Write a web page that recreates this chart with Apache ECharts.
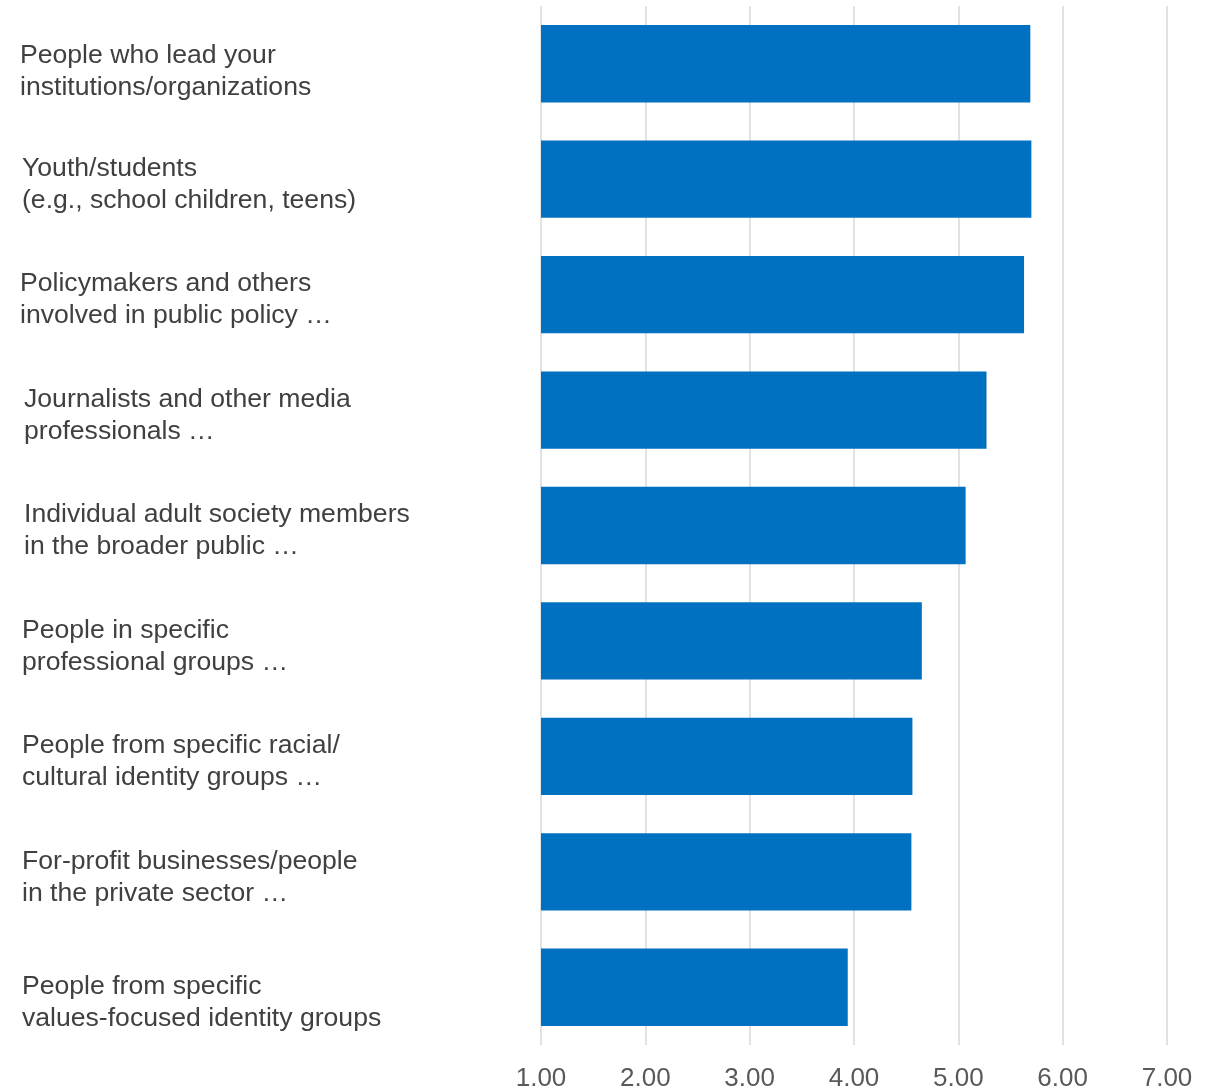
<!DOCTYPE html>
<html><head><meta charset="utf-8">
<script src="https://cdn.jsdelivr.net/npm/echarts@6/dist/echarts.min.js"></script>
<style>html,body{margin:0;padding:0;background:#fff}#c{width:1211px;height:1090px}</style>
</head><body><div id="c"></div>
<script>
const categories = [
  "People who lead your\ninstitutions/organizations",
  "Youth/students\n(e.g., school children, teens)",
  "Policymakers and others\ninvolved in public policy \u2026",
  "Journalists and other media\nprofessionals \u2026",
  "Individual adult society members\nin the broader public \u2026",
  "People in specific\nprofessional groups \u2026",
  "People from specific racial/\ncultural identity groups \u2026",
  "For-profit businesses/people\nin the private sector \u2026",
  "People from specific\nvalues-focused identity groups"
];
const values = [5.69, 5.70, 5.63, 5.27, 5.07, 4.65, 4.56, 4.55, 3.94];
const xMin = 1, xMax = 7, xStep = 1;

const FONT = '"Liberation Sans", Arial, sans-serif';
// label box styles per row (spacer above text, indent)
const spacerStyle = ['s2', 's1', 's1', 's1', 's1', 's1', 's1', 's1', 's3'];
const textStyle = ['a0', 'a2', 'a0', 'a4', 'a4', 'a2', 'a2', 'a2', 'a2'];
const base = {fontFamily: FONT, fontSize: 26.6, lineHeight: 32, color: '#404040'};
const chart = echarts.init(document.getElementById('c'), null, {renderer: 'canvas'});
chart.setOption({
  animation: false,
  grid: {left: 541, right: 44, top: 6, bottom: 45, containLabel: false, outerBoundsMode: 'none'},
  xAxis: {
    type: 'value', min: xMin, max: xMax, interval: xStep,
    axisLine: {show: false}, axisTick: {show: false},
    splitLine: {show: true, lineStyle: {color: '#d9d9d9', width: 1.5}},
    axisLabel: {
      formatter: v => v.toFixed(2), color: '#595959',
      fontFamily: FONT, fontSize: 26, margin: 21
    }
  },
  yAxis: {
    type: 'category', data: categories, inverse: true,
    axisLine: {show: false}, axisTick: {show: false},
    axisLabel: {
      align: 'left', margin: 521, color: '#404040',
      fontFamily: FONT, fontSize: 26.6, lineHeight: 32,
      formatter: (v, i) => '{' + spacerStyle[i] + '| }\n' +
        v.split('\n').map(l => '{' + textStyle[i] + '|' + l + '}').join('\n'),
      rich: {
        s1: {fontSize: 1, lineHeight: 11},
        s2: {fontSize: 1, lineHeight: 15},
        s3: {fontSize: 1, lineHeight: 31},
        a0: Object.assign({}, base),
        a2: Object.assign({padding: [0, 0, 0, 2]}, base),
        a4: Object.assign({padding: [0, 0, 0, 4]}, base)
      }
    }
  },
  series: [{
    type: 'bar', data: values, barCategoryGap: '33%',
    itemStyle: {color: '#0070C0'}
  }]
});
</script></body></html>
